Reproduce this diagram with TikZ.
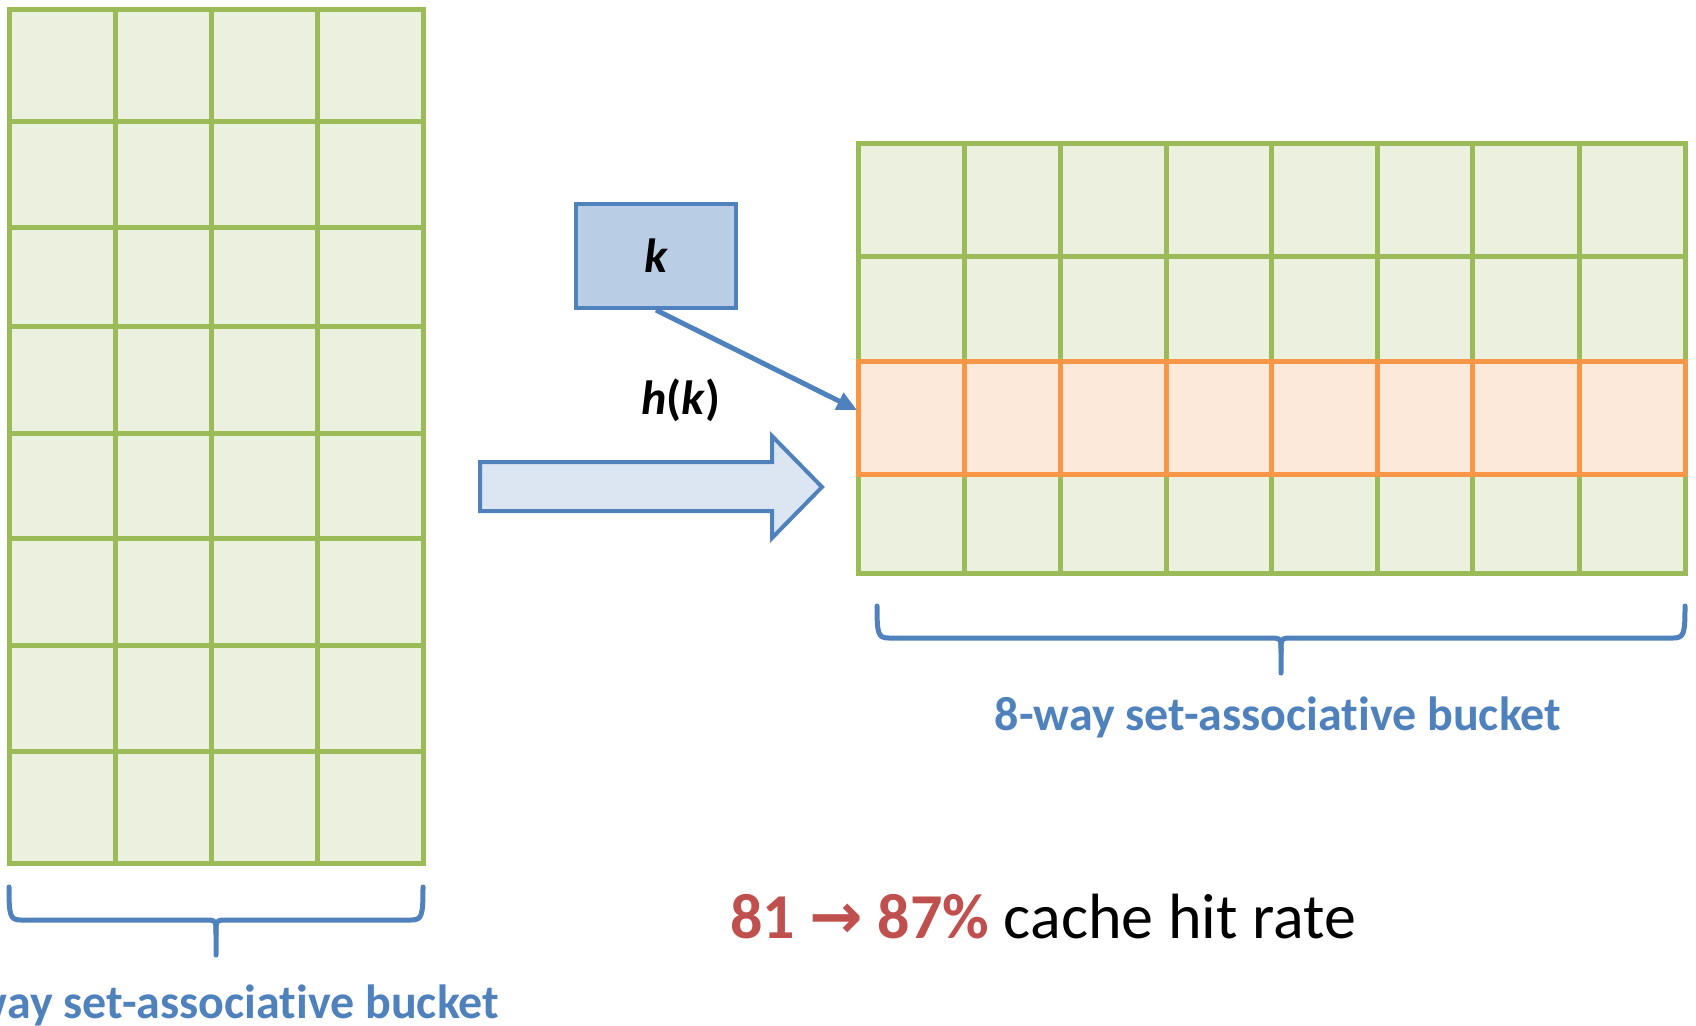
\documentclass[tikz,border=0pt]{standalone}
\usepackage{fontspec}
\setmainfont{Carlito}[Ligatures=NoCommon]
\newfontfamily\arrowfont{DejaVu Sans}
\usepackage{xcolor}
\usetikzlibrary{positioning,arrows.meta}
\definecolor{cellgreen}{HTML}{9BBB59}
\definecolor{cellfill}{HTML}{EBF1DE}
\definecolor{setorange}{HTML}{F79646}
\definecolor{setfill}{HTML}{FDE9D9}
\definecolor{keyblue}{HTML}{4F81BD}
\definecolor{keyfill}{HTML}{B9CDE5}
\definecolor{hashfill}{HTML}{DCE6F2}
\definecolor{ratered}{HTML}{C0504D}

\begin{document}
\begin{tikzpicture}[x=0.5pt, y=-0.5pt,
  gridline/.style={draw=cellgreen, line width=2.5pt, line cap=rect},
  setline/.style={draw=setorange, line width=2.5pt, line cap=rect},
  bracket/.style={draw=keyblue, line width=2.5pt, line cap=round, line join=round},
  keybox/.style={draw=keyblue, fill=keyfill, line width=2pt, minimum width=80pt, minimum height=52pt, inner sep=0pt},
  hasharrow/.style={draw=keyblue, fill=hashfill, line width=2pt},
  bucketlabel/.style={font=\fontsize{24}{28}\selectfont\bfseries, text=keyblue},
]
\useasboundingbox (0,0) rectangle (1696,1025);
\clip (0,0) rectangle (1696,1025);

% 4-way table (left)
\fill[cellfill] (9,9) rectangle (423,863);
\foreach \x in {9,115,211,317,423}
  \draw[gridline] (\x,9) -- (\x,863);
\foreach \y in {9,121,227,326,433,538,645,751,863}
  \draw[gridline] (9,\y) -- (423,\y);

% 8-way table (right)
\fill[cellfill] (858,143) rectangle (1685,573);
\foreach \x in {858,964,1060,1166,1271,1377,1472,1579,1685}
  \draw[gridline] (\x,143) -- (\x,573);
\foreach \y in {143,256,361,474,573}
  \draw[gridline] (858,\y) -- (1685,\y);
% selected set
\fill[setfill] (858,361) rectangle (1685,474);
\foreach \x in {858,964,1060,1166,1271,1377,1472,1579,1685}
  \draw[setline] (\x,361) -- (\x,474);
\draw[setline] (858,361) rectangle (1685,474);

% key and hash
\node[keybox] (key) at (656,256) {\fontsize{24}{28}\selectfont\bfseries\itshape k};
\coordinate (setentry) at (857,410);
\draw[keyblue, line width=2.5pt, -{Triangle[length=10pt,width=9pt]}] (key.south) -- (setentry);
\node[font=\fontsize{24}{28}\selectfont\bfseries] (hashlabel) at (681,400) {\textit{h}(\textit{k})};
\draw[hasharrow] (480,462) -- (772,462) -- (772,436) -- (822,487)
  -- (772,538) -- (772,511) -- (480,511) -- cycle;

% braces
\foreach \xa/\xb/\yt/\yh/\yp in {9/423/887/920/955, 877/1685/606/638/673} {
  \pgfmathsetmacro{\xm}{(\xa+\xb)/2}
  \draw[bracket] (\xa,\yt) .. controls (\xa,\yh-4) and (\xa+1,\yh) .. (\xa+12,\yh)
    -- (\xm-12,\yh) .. controls (\xm,\yh) .. (\xm,\yh+14) -- (\xm,\yp);
  \draw[bracket] (\xb,\yt) .. controls (\xb,\yh-4) and (\xb-1,\yh) .. (\xb-12,\yh)
    -- (\xm+12,\yh) .. controls (\xm,\yh) .. (\xm,\yh+14);
}
\node[bucketlabel] (leftlabel) at (216,1005) {4-way set-associative bucket};
\node[bucketlabel] (rightlabel) at (1278,717) {8-way set-associative bucket};

% result
\node[anchor=west, inner sep=0pt, font=\fontsize{32}{38}\selectfont] (rate) at (730,917)
  {\textcolor{ratered}{\textbf{81 {\arrowfont\bfseries →} 87\%}} cache hit rate};
\end{tikzpicture}
\end{document}
